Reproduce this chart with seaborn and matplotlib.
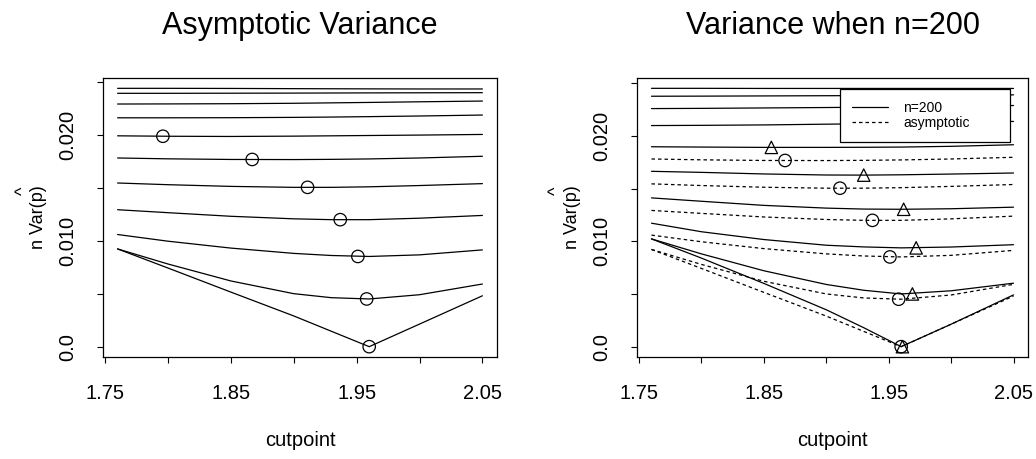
import numpy as np
import pandas as pd
import matplotlib
matplotlib.use('Agg')
import matplotlib.pyplot as plt
from matplotlib.lines import Line2D
import seaborn as sns

# --- valores ---
CUTPOINTS = [1.76, 1.80, 1.85, 1.90, 1.93, 1.96, 2.00, 2.05]

# varianza asintotica (panel izquierdo, de arriba hacia abajo)
asym_01 = [0.02437, 0.02437, 0.02436, 0.02434, 0.02433, 0.02432, 0.02431, 0.02431]
asym_02 = [0.02390, 0.02390, 0.02391, 0.02392, 0.02393, 0.02394, 0.02395, 0.02396]
asym_03 = [0.02289, 0.02290, 0.02292, 0.02296, 0.02300, 0.02304, 0.02310, 0.02317]
asym_04 = [0.02159, 0.02159, 0.02160, 0.02163, 0.02166, 0.02170, 0.02176, 0.02185]
asym_05 = [0.01989, 0.01985, 0.01983, 0.01986, 0.01989, 0.01992, 0.01996, 0.02002]
asym_06 = [0.01780, 0.01772, 0.01766, 0.01765, 0.01767, 0.01771, 0.01780, 0.01796]
asym_07 = [0.01544, 0.01528, 0.01512, 0.01503, 0.01503, 0.01508, 0.01520, 0.01538]
asym_08 = [0.01292, 0.01264, 0.01230, 0.01206, 0.01198, 0.01198, 0.01212, 0.01238]
asym_09 = [0.01058, 0.00995, 0.00930, 0.00880, 0.00860, 0.00851, 0.00866, 0.00913]
asym_10 = [0.00922, 0.00780, 0.00620, 0.00500, 0.00462, 0.00450, 0.00490, 0.00591]
asym_11 = [0.00922, 0.00742, 0.00515, 0.00290, 0.00145, 0.00000, 0.00213, 0.00480]

# varianza con n=200 (panel derecho, lineas solidas)
n200_01 = [0.02450, 0.02450, 0.02449, 0.02449, 0.02449, 0.02449, 0.02449, 0.02449]
n200_02 = [0.02375, 0.02376, 0.02378, 0.02380, 0.02381, 0.02383, 0.02385, 0.02388]
n200_03 = [0.02258, 0.02260, 0.02264, 0.02268, 0.02271, 0.02275, 0.02280, 0.02287]
n200_04 = [0.02097, 0.02099, 0.02103, 0.02110, 0.02114, 0.02119, 0.02126, 0.02136]
n200_05 = [0.01896, 0.01893, 0.01890, 0.01890, 0.01891, 0.01893, 0.01900, 0.01915]
n200_06 = [0.01663, 0.01653, 0.01638, 0.01628, 0.01627, 0.01630, 0.01637, 0.01647]
n200_07 = [0.01411, 0.01379, 0.01340, 0.01314, 0.01305, 0.01303, 0.01308, 0.01323]
n200_08 = [0.01171, 0.01090, 0.01016, 0.00962, 0.00946, 0.00937, 0.00945, 0.00967]
n200_09 = [0.01022, 0.00880, 0.00720, 0.00590, 0.00535, 0.00500, 0.00530, 0.00602]
n200_10 = [0.01022, 0.00840, 0.00600, 0.00350, 0.00180, 0.00000, 0.00213, 0.00491]

# minimos (circulos = asintotico, triangulos = n=200)
circ_x = [1.796, 1.867, 1.911, 1.937, 1.951, 1.958, 1.960]
circ_y = [0.01985, 0.01766, 0.01503, 0.01198, 0.00851, 0.00450, 0.00000]
tri_x = [1.856, 1.930, 1.962, 1.972, 1.969, 1.961]
tri_y = [0.01890, 0.01627, 0.01303, 0.00937, 0.00500, 0.00000]

XTICKS = [1.75, 1.80, 1.85, 1.90, 1.95, 2.00, 2.05]
XTICKLABELS = ['1.75', '', '1.85', '', '1.95', '', '2.05']
YTICKS = [0.0, 0.005, 0.010, 0.015, 0.020, 0.025]
YTICKLABELS = ['0.0', '', '0.010', '', '0.020', '']

asym_curves = [asym_01, asym_02, asym_03, asym_04, asym_05, asym_06,
               asym_07, asym_08, asym_09, asym_10, asym_11]
n200_curves = [n200_01, n200_02, n200_03, n200_04, n200_05,
               n200_06, n200_07, n200_08, n200_09, n200_10]


def long_df(curves, tipo, prefix):
    partes = []
    for i, c in enumerate(curves):
        partes.append(pd.DataFrame({'cutpoint': CUTPOINTS, 'var': c,
                                    'curva': f'{prefix}{i}', 'tipo': tipo}))
    return pd.concat(partes, ignore_index=True)


df_asym = long_df(asym_curves, 'asymptotic', 'a')
df_n200 = long_df(n200_curves, 'n=200', 'n')
# panel derecho: curvas n=200 + las 6 asintoticas de abajo
df_right = pd.concat([df_n200, df_asym[df_asym['curva'].isin([f'a{i}' for i in range(5, 11)])]],
                     ignore_index=True)

sns.set_style('ticks')
plt.rcParams['font.family'] = ['Liberation Sans', 'DejaVu Sans']
plt.rcParams.update({'text.color': 'black', 'axes.labelcolor': 'black',
                     'xtick.color': 'black', 'ytick.color': 'black',
                     'axes.edgecolor': 'black', 'axes.linewidth': 0.9})

LW = 0.9
DASH = (2.8, 2.4)

fig = plt.figure(figsize=(10.36, 4.59), dpi=100)
ax1 = fig.add_axes([103 / 1036, 102 / 459, 394 / 1036, 279 / 459])
ax2 = fig.add_axes([637 / 1036, 102 / 459, 391 / 1036, 279 / 459])

# panel izquierdo
sns.lineplot(data=df_asym, x='cutpoint', y='var', units='curva', estimator=None,
             color='black', lw=LW, sort=False, legend=False, ax=ax1)
sns.scatterplot(x=circ_x, y=circ_y, marker='o', s=80, facecolor='none',
                edgecolor='black', linewidth=LW, ax=ax1, zorder=3)

# panel derecho
sns.lineplot(data=df_right, x='cutpoint', y='var', units='curva', estimator=None,
             style='tipo', dashes={'n=200': '', 'asymptotic': DASH},
             color='black', lw=LW, sort=False, legend=False, ax=ax2)
sns.scatterplot(x=circ_x[1:], y=circ_y[1:], marker='o', s=80, facecolor='none',
                edgecolor='black', linewidth=LW, ax=ax2, zorder=3)
sns.scatterplot(x=tri_x, y=tri_y, marker='^', s=80, facecolor='none',
                edgecolor='black', linewidth=LW, ax=ax2, zorder=3)

for ax, titulo, hat_x in [(ax1, 'Asymptotic Variance', -0.203),
                          (ax2, 'Variance when n=200', -0.205)]:
    ax.margins(x=0.04, y=0.04)
    ax.set_xticks(XTICKS)
    ax.set_xticklabels(XTICKLABELS)
    ax.set_yticks(YTICKS)
    ax.set_yticklabels(YTICKLABELS)
    ax.tick_params(axis='both', direction='out', length=4.3, width=0.8,
                   color='black', labelcolor='black', labelsize=14.5)
    ax.tick_params(axis='x', pad=15)
    ax.tick_params(axis='y', pad=14)
    for lbl in ax.get_yticklabels():
        lbl.set_rotation(90)
        lbl.set_va('center')
    for s in ax.spines.values():
        s.set_visible(True)
        s.set_color('black')
        s.set_linewidth(LW)
    ax.set_title(titulo, fontsize=22, pad=32, color='black')
    ax.set_xlabel('cutpoint', fontsize=14.5, labelpad=20)
    ax.set_ylabel('n Var(p)', fontsize=13)
    ax.yaxis.set_label_coords(-0.142, 0.5)
    ax.text(hat_x, 0.595, '^', rotation=90, transform=ax.transAxes,
            ha='center', va='center', fontsize=13)

handles = [Line2D([], [], color='black', lw=LW),
           Line2D([], [], color='black', lw=LW, dashes=DASH)]
leg = ax2.legend(handles, ['n=200', 'asymptotic'], loc='upper left',
                 bbox_to_anchor=(0.519, 0.771, 0.434, 0.19), mode='expand',
                 borderaxespad=0, fontsize=10, frameon=True, fancybox=False,
                 framealpha=1, edgecolor='black', borderpad=0.85,
                 labelspacing=0.1, handlelength=2.6, handletextpad=1.1)
leg.get_frame().set_linewidth(LW)

fig.savefig('out.png', dpi=100)
